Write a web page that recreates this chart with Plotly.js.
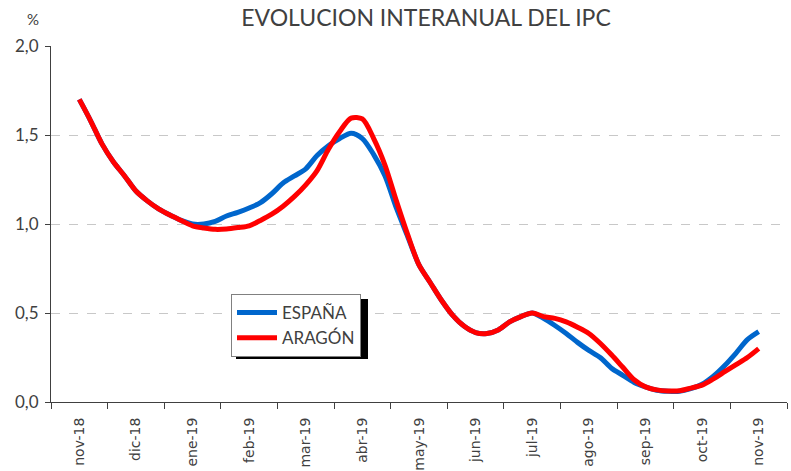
<!DOCTYPE html>
<html>
<head>
<meta charset="utf-8">
<script src="https://cdn.plot.ly/plotly-3.0.1.min.js"></script>
<style>html,body{margin:0;padding:0;background:#fff;}</style>
</head>
<body>
<div id="chart" style="width:791px;height:471px;"></div>
<script>
// Month labels (category axis)
const monthLabels = ['nov-18','dic-18','ene-19','feb-19','mar-19','abr-19','may-19','jun-19','jul-19','ago-19','sep-19','oct-19','nov-19'];

// Time in months since nov-18 (readings every 0.2 month)
const tMonths = [0,0.2,0.4,0.6,0.8,1.0,1.2,1.4,1.6,1.8,2.0,2.2,2.4,2.6,2.8,3.0,3.2,3.4,3.6,3.8,4.0,4.2,4.4,4.6,4.8,5.0,5.2,5.4,5.6,5.8,6.0,6.2,6.4,6.6,6.8,7.0,7.2,7.4,7.6,7.8,8.0,8.2,8.4,8.6,8.8,9.0,9.2,9.4,9.6,9.8,10.0,10.2,10.4,10.6,10.8,11.0,11.2,11.4,11.6,11.8,12.0];

// ESPAÑA (%)
const espana = [1.70,1.58,1.45,1.35,1.27,1.185,1.13,1.085,1.05,1.02,1.00,1.00,1.015,1.045,1.065,1.09,1.12,1.17,1.23,1.27,1.31,1.385,1.44,1.48,1.51,1.48,1.39,1.27,1.09,0.93,0.77,0.67,0.57,0.485,0.425,0.39,0.385,0.405,0.45,0.48,0.50,0.47,0.43,0.385,0.335,0.29,0.25,0.19,0.15,0.11,0.085,0.066,0.06,0.06,0.075,0.10,0.145,0.205,0.275,0.35,0.395];

// ARAGÓN (%)
const aragon = [1.70,1.58,1.45,1.35,1.27,1.185,1.13,1.085,1.05,1.02,0.99,0.978,0.97,0.972,0.98,0.99,1.02,1.055,1.10,1.155,1.22,1.30,1.42,1.52,1.595,1.59,1.48,1.33,1.13,0.94,0.77,0.67,0.57,0.485,0.425,0.39,0.385,0.405,0.45,0.48,0.50,0.48,0.47,0.45,0.42,0.385,0.33,0.265,0.195,0.125,0.085,0.068,0.062,0.063,0.078,0.095,0.13,0.17,0.21,0.25,0.30];

const monthIdx = monthLabels.map((_, i) => i);
const boundaries = monthLabels.concat(['']).map((_, i) => i - 0.5);

const traces = [
  {x: tMonths, y: espana, name: 'ESPAÑA', type: 'scatter', mode: 'lines',
   line: {color: '#0066CC', width: 5, shape: 'spline', smoothing: 0.8}},
  {x: tMonths, y: aragon, name: 'ARAGÓN', type: 'scatter', mode: 'lines',
   line: {color: '#FF0000', width: 5, shape: 'spline', smoothing: 0.8}},
  {x: [], y: [], xaxis: 'x2', showlegend: false, hoverinfo: 'skip', type: 'scatter'}
];

const L = 51, R = 787, T = 46, B = 402;
const px = v => (v - L) / (R - L);
const py = v => (B - v) / (B - T);

const layout = {
  width: 791, height: 471,
  margin: {l: L, r: 791 - R, t: T, b: 471 - B},
  paper_bgcolor: '#ffffff', plot_bgcolor: '#ffffff',
  separators: ',.',
  font: {family: 'Lato, sans-serif', color: '#404040'},
  title: {text: 'EVOLUCION INTERANUAL DEL IPC', font: {family: 'Lato, sans-serif', size: 23, color: '#404040'},
          x: 426 / 791, xref: 'container', xanchor: 'center', y: 1 - 18 / 471, yref: 'container', yanchor: 'middle'},
  xaxis: {range: [-0.5, 12.5], tickmode: 'array', tickvals: monthIdx, ticktext: monthLabels,
          tickangle: -90, ticks: '', showgrid: false, zeroline: false, showline: true,
          linecolor: '#404040', linewidth: 1, ticklabelstandoff: 9,
          tickfont: {family: 'DejaVu Sans, sans-serif', size: 14, color: '#404040'}, fixedrange: true},
  xaxis2: {range: [-0.5, 12.5], overlaying: 'x', anchor: 'y', side: 'bottom', tickmode: 'array',
           tickvals: boundaries, ticks: 'outside', ticklen: 6, tickcolor: '#404040', tickwidth: 1,
           showticklabels: false, showgrid: false, zeroline: false, showline: false},
  yaxis: {range: [0, 2], tickmode: 'array', tickvals: [0, 0.5, 1.0, 1.5, 2.0], tickformat: '.1f',
          ticks: 'outside', ticklen: 5, tickcolor: '#404040', showline: true, linecolor: '#404040', linewidth: 1,
          showgrid: true, gridcolor: '#c8c8c8', griddash: 'dash', gridwidth: 1, zeroline: false,
          ticklabelstandoff: 3,
          tickfont: {family: 'Lato, sans-serif', size: 17, color: '#404040'}},
  legend: {x: px(231), y: py(294), xanchor: 'left', yanchor: 'top', bgcolor: '#ffffff',
           bordercolor: '#808080', borderwidth: 1, itemwidth: 40, tracegroupgap: 0,
           font: {family: 'Lato, sans-serif', size: 17, color: '#404040'}},
  shapes: [{type: 'rect', xref: 'paper', yref: 'paper', x0: px(236), x1: px(368), y0: py(299), y1: py(359),
            fillcolor: '#000000', line: {width: 0}, layer: 'above'}],
  annotations: [{text: '%', xref: 'paper', yref: 'paper', x: px(33), y: py(19), xanchor: 'center', yanchor: 'middle',
                 showarrow: false, font: {family: 'Lato, sans-serif', size: 15, color: '#404040'}}],
  showlegend: true
};

Plotly.newPlot('chart', traces, layout, {displayModeBar: false, staticPlot: true});
</script>
</body>
</html>
